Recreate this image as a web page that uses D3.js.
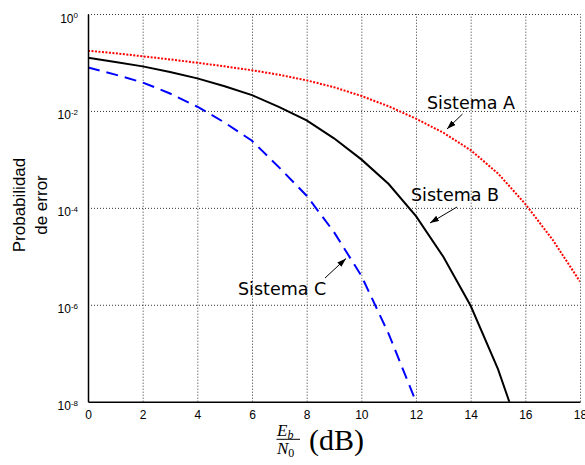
<!DOCTYPE html>
<html>
<head>
<meta charset="utf-8">
<script src="https://cdn.jsdelivr.net/npm/d3@7/dist/d3.min.js"></script>
<style>
  body { margin: 0; background: #fff; }
  svg { display: block; }
</style>
</head>
<body>
<div id="vis"></div>
<script>
// Eb/N0 in dB, sampled every 1 dB
var ebn0 = [0, 1, 2, 3, 4, 5, 6, 7, 8, 9, 10, 11, 12, 13, 14, 15, 16, 17, 18];

// error probabilities
var sistemaA = [0.1746, 0.155, 0.134, 0.1156, 0.0986, 0.0832, 0.0692, 0.0556, 0.0427,
  0.0309, 0.0204, 0.01245, 6.92e-3, 3.55e-3, 1.55e-3, 5.13e-4, 1.20e-4, 2.19e-5, 3.02e-6];
var sistemaB = [0.125, 0.102, 0.083, 0.0638, 0.0469, 0.0324, 0.0212, 0.0120, 6.38e-3,
  2.72e-3, 1.0e-3, 3.10e-4, 6.76e-5, 9.77e-6, 9.55e-7, 4.68e-8, 1.12e-9];
var sistemaC = [0.079, 0.0562, 0.0387, 0.0229, 0.0122, 5.75e-3, 2.42e-3, 6.76e-4, 1.78e-4,
  3.16e-5, 3.98e-6, 2.51e-7, 1.0e-8];

var xTicks = [0, 2, 4, 6, 8, 10, 12, 14, 16, 18];
var yTicks = [1e-8, 1e-6, 1e-4, 1e-2, 1];

(function() {
  var pLeft = 88, pRight = 580, pTop = 14, pBottom = 401.7;
  var sans = "'Liberation Sans', Arial, sans-serif";

  var svg = d3.select("#vis")
    .append("svg")
    .attr("width", 585)
    .attr("height", 465);

  var x = d3.scaleLinear().domain([0, 18]).range([pLeft, pRight]);
  var y = d3.scaleLog().domain([1e-8, 1]).range([pBottom, pTop]);

  // dotted grid
  var gridX = svg.append("g")
    .attr("transform", "translate(0," + pBottom + ")")
    .call(d3.axisBottom(x).tickValues(xTicks.slice(1)).tickSize(-(pBottom - pTop)).tickFormat(""));
  var gridY = svg.append("g")
    .attr("transform", "translate(" + pLeft + ",0)")
    .call(d3.axisLeft(y).tickValues(yTicks.slice(1)).tickSize(-(pRight - pLeft)).tickFormat(""));
  [gridX, gridY].forEach(function(g) {
    g.select(".domain").remove();
    g.selectAll("line")
      .attr("stroke", "#333")
      .attr("stroke-width", 1)
      .attr("stroke-dasharray", "1,2");
  });

  // curves
  svg.append("clipPath").attr("id", "plotclip")
    .append("rect")
    .attr("x", pLeft).attr("y", pTop)
    .attr("width", pRight - pLeft).attr("height", pBottom - pTop);

  var line = d3.line()
    .x(function(d) { return x(d[0]); })
    .y(function(d) { return y(d[1]); });

  var series = [
    { values: sistemaA, color: "#ff0000", dash: "2,1.5" },
    { values: sistemaB, color: "#000000", dash: null },
    { values: sistemaC, color: "#0000ff", dash: "12,7" }
  ];

  svg.append("g")
    .attr("clip-path", "url(#plotclip)")
    .selectAll("path")
    .data(series)
    .enter().append("path")
    .attr("d", function(s) {
      return line(s.values.map(function(v, i) { return [ebn0[i], v]; }));
    })
    .attr("fill", "none")
    .attr("stroke", function(s) { return s.color; })
    .attr("stroke-width", 2)
    .attr("stroke-dasharray", function(s) { return s.dash; });

  // axes
  var xAxis = svg.append("g")
    .attr("transform", "translate(0," + pBottom + ")")
    .attr("font-size", 12)
    .attr("font-family", sans)
    .call(d3.axisBottom(x).tickValues(xTicks).tickSize(0).tickPadding(0));
  xAxis.attr("font-size", 12).attr("font-family", sans);
  xAxis.select(".domain").attr("stroke", "#000").attr("stroke-width", 1.5);
  xAxis.selectAll("text")
    .attr("y", 17.5)
    .attr("dy", null)
    .attr("fill", "#000");

  var yAxis = svg.append("g")
    .attr("transform", "translate(" + pLeft + ",0)")
    .call(d3.axisLeft(y).tickValues(yTicks).tickSize(0).tickFormat(""));
  yAxis.attr("font-family", sans);
  yAxis.select(".domain").attr("stroke", "#000").attr("stroke-width", 1.5);
  yAxis.selectAll(".tick text").remove();
  yAxis.selectAll(".tick").append("text")
    .attr("x", -10)
    .attr("y", 8)
    .attr("text-anchor", "end")
    .attr("fill", "#000")
    .each(function(d) {
      var t = d3.select(this);
      t.append("tspan").attr("font-size", 12).text("10");
      t.append("tspan").attr("font-size", 8).attr("dy", -4.5)
        .text(String(Math.round(Math.log10(d))));
    });

  // y label
  var ylab = svg.append("text")
    .attr("transform", "translate(25,205) rotate(-90)")
    .attr("text-anchor", "middle")
    .attr("fill", "#000")
    .attr("font-family", sans)
    .attr("font-size", 17);
  ylab.append("tspan").attr("x", 0).attr("y", 0).text("Probabilidad");
  ylab.append("tspan").attr("x", 0).attr("y", 21.5).text("de error");

  // x label: Eb/N0 (dB)
  var xl = svg.append("g")
    .attr("fill", "#000")
    .attr("font-family", "'Liberation Serif', 'DejaVu Serif', serif");
  var num = xl.append("text").attr("x", 277).attr("y", 435.5)
    .attr("font-style", "italic").attr("font-size", 17);
  num.append("tspan").text("E");
  num.append("tspan").attr("dy", 3).attr("font-size", 12).text("b");
  xl.append("line")
    .attr("x1", 276.5).attr("x2", 300)
    .attr("y1", 439.3).attr("y2", 439.3)
    .attr("stroke", "#000").attr("stroke-width", 1);
  var den = xl.append("text").attr("x", 277).attr("y", 453.5)
    .attr("font-style", "italic").attr("font-size", 17);
  den.append("tspan").text("N");
  den.append("tspan").attr("dy", 3).attr("font-style", "normal").attr("font-size", 12).text("0");
  xl.append("text").attr("x", 309).attr("y", 450)
    .attr("font-size", 30).text("(dB)");

  // annotations
  svg.append("defs").append("marker")
    .attr("id", "arrow")
    .attr("markerUnits", "userSpaceOnUse")
    .attr("markerWidth", 10).attr("markerHeight", 7)
    .attr("refX", 9).attr("refY", 3)
    .attr("orient", "auto")
    .append("path").attr("d", "M0,0L9,3L0,6Z").attr("fill", "#000");

  var notes = [
    { label: "Sistema A", tx: 427, ty: 109, x1: 462.5, y1: 114, x2: 447, y2: 129 },
    { label: "Sistema B", tx: 411, ty: 201, x1: 457, y1: 207, x2: 430, y2: 223 },
    { label: "Sistema C", tx: 238, ty: 295, x1: 325, y1: 278, x2: 346, y2: 258.5 }
  ];
  var note = svg.append("g").selectAll("g").data(notes).enter().append("g");
  note.append("text")
    .attr("x", function(d) { return d.tx; })
    .attr("y", function(d) { return d.ty; })
    .attr("fill", "#000")
    .attr("font-family", "'DejaVu Sans', sans-serif")
    .attr("font-size", 17.5)
    .text(function(d) { return d.label; });
  note.append("line")
    .attr("x1", function(d) { return d.x1; })
    .attr("y1", function(d) { return d.y1; })
    .attr("x2", function(d) { return d.x2; })
    .attr("y2", function(d) { return d.y2; })
    .attr("stroke", "#000")
    .attr("stroke-width", 1)
    .attr("marker-end", "url(#arrow)");
})();
</script>
</body>
</html>
